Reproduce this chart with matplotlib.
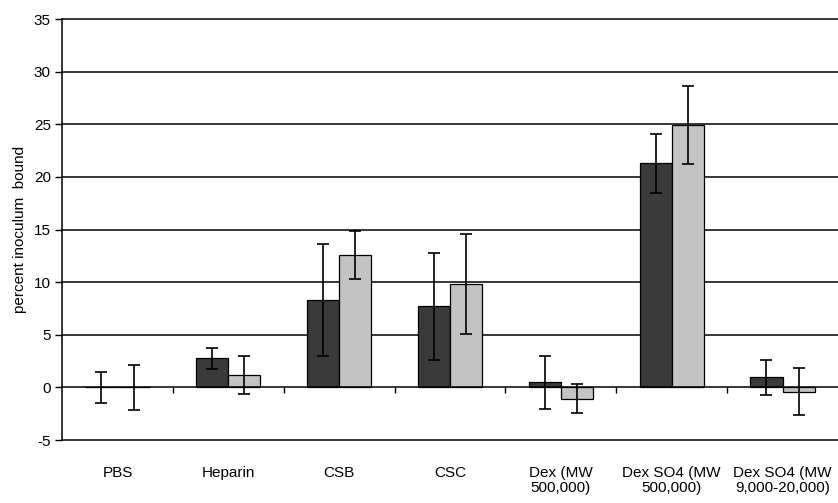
import numpy as np
import matplotlib.pyplot as plt
from matplotlib.transforms import blended_transform_factory

plt.rcParams['font.family'] = ['Liberation Sans', 'DejaVu Sans']
plt.rcParams['axes.unicode_minus'] = False

# binding per compound, two series
labels = ['PBS', 'Heparin', 'CSB', 'CSC', 'Dex (MW\n500,000)',
          'Dex SO4 (MW\n500,000)', 'Dex SO4 (MW\n9,000-20,000)']
dark_vals = [0.0, 2.8, 8.3, 7.7, 0.5, 21.3, 0.95]
dark_err = [1.45, 1.0, 5.3, 5.1, 2.5, 2.8, 1.63]
light_vals = [0.0, 1.2, 12.6, 9.8, -1.05, 24.9, -0.4]
light_err = [2.15, 1.84, 2.3, 4.75, 1.38, 3.7, 2.25]
yticks = [-5, 0, 5, 10, 15, 20, 25, 30, 35]

fig = plt.figure(figsize=(8.38, 5.03), dpi=100)
ax = fig.add_axes([0.074, 0.125, 0.926, 0.837])

x = np.arange(len(labels)) + 0.5
w = 0.29
ekw = dict(ecolor='black', elinewidth=1.2, capsize=4, capthick=1.2)
ax.bar(x - w / 2, dark_vals, w, color='#3a3a3a', edgecolor='black',
       linewidth=0.9, yerr=dark_err, error_kw=ekw, zorder=3)
ax.bar(x + w / 2, light_vals, w, color='#c3c3c3', edgecolor='black',
       linewidth=0.9, yerr=light_err, error_kw=ekw, zorder=3)

for yv in yticks:
    if yv != 0:
        ax.axhline(yv, color='black', linewidth=1.1, zorder=1, clip_on=False)

ax.set_xlim(0, len(labels))
ax.set_ylim(-5, 35)
ax.set_yticks(yticks)
ax.tick_params(axis='y', direction='out', length=5, width=1, labelsize=11, pad=3)

# category axis sits on the zero line, ticks between groups
for s in ['top', 'right']:
    ax.spines[s].set_visible(False)
ax.spines['bottom'].set_position(('data', 0))
ax.spines['bottom'].set_linewidth(1.1)
ax.spines['bottom'].set_zorder(4)
ax.spines['left'].set_linewidth(1.1)
ax.set_xticks(np.arange(1, len(labels)))
ax.tick_params(axis='x', direction='out', length=4, width=1, labelbottom=False)

tr = blended_transform_factory(ax.transData, ax.transAxes)
for xi, lab in zip(x, labels):
    ax.text(xi, -0.062, lab, transform=tr, ha='center', va='top',
            fontsize=11, linespacing=1.1)

ax.set_ylabel('percent inoculum  bound', fontsize=11, labelpad=5)

fig.savefig('out.png', dpi=100)
